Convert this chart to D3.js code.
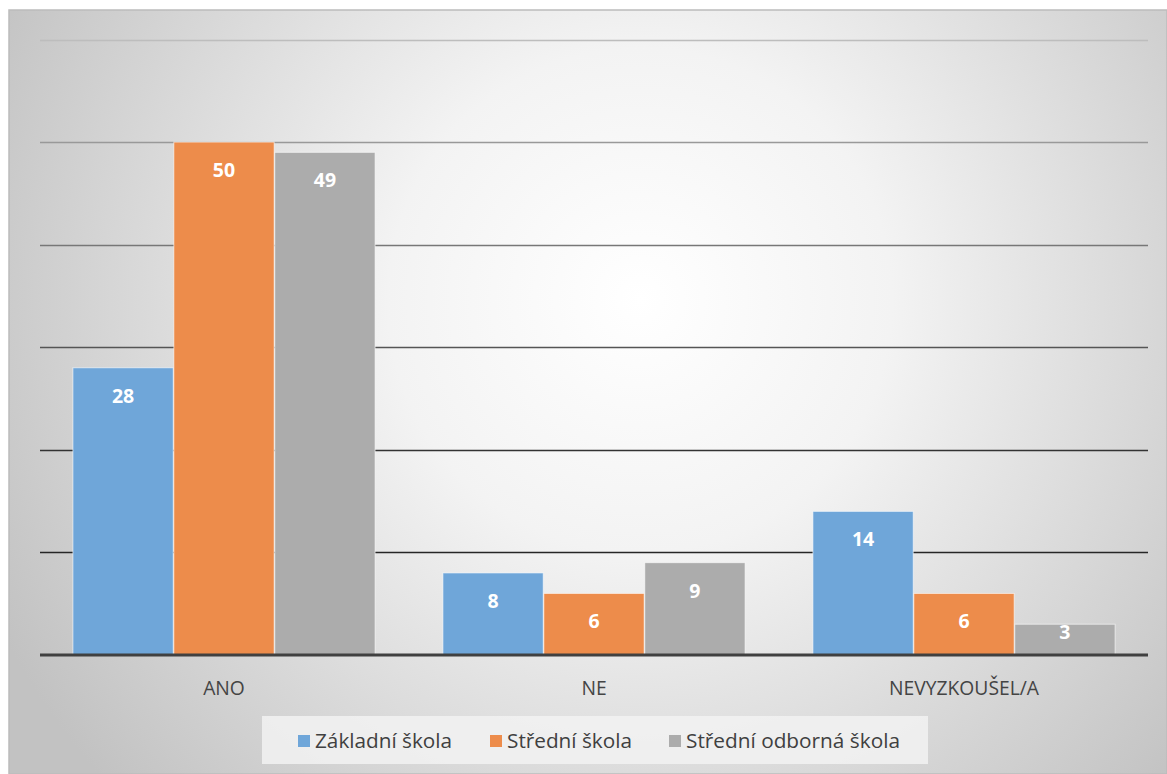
<!DOCTYPE html>
<html>
<head>
<meta charset="utf-8">
<script src="https://cdn.jsdelivr.net/npm/d3@7"></script>
<style>
  body { margin: 0; background: #fff; }
  svg { display: block; }
</style>
</head>
<body>
<script>
var width = 1167;
var height = 774;

// data
var categories = ["ANO", "NE", "NEVYZKOUŠEL/A"];
var series = ["Základní škola", "Střední škola", "Střední odborná škola"];
var zakladni = [28, 8, 14];
var stredni = [50, 6, 6];
var odborna = [49, 9, 3];
var yTicks = [0, 10, 20, 30, 40, 50, 60];

var values = [zakladni, stredni, odborna];
var colors = ["#6fa6d9", "#ed8c4b", "#acacac"];
var gridColors = ["#444", "#262626", "#333", "#555", "#777", "#999", "#bdbdbd"];

var svg = d3.select("body").append("svg")
  .attr("width", width)
  .attr("height", height);

var defs = svg.append("defs");
var grad = defs.append("radialGradient")
  .attr("id", "bg")
  .attr("gradientUnits", "userSpaceOnUse")
  .attr("cx", 640).attr("cy", 300).attr("r", 720);
grad.append("stop").attr("offset", "0%").attr("stop-color", "#ffffff");
grad.append("stop").attr("offset", "35%").attr("stop-color", "#f3f3f3");
grad.append("stop").attr("offset", "100%").attr("stop-color", "#c2c2c2");

svg.append("rect")
  .attr("x", 9).attr("y", 10)
  .attr("width", width - 9).attr("height", height - 10)
  .attr("fill", "url(#bg)")
  .attr("stroke", "#bcbcbc")
  .attr("stroke-width", 1.5);

var x0 = d3.scaleBand()
  .domain(categories)
  .range([39, 1149])
  .paddingInner(0.18)
  .paddingOuter(0.09);

var x1 = d3.scaleBand()
  .domain(d3.range(series.length))
  .range([0, x0.bandwidth()])
  .padding(0.006);

var y = d3.scaleLinear()
  .domain([0, 60])
  .range([655, 39.5]);

// gridlines
svg.append("g").selectAll("line")
  .data(yTicks.slice(1))
  .enter().append("line")
  .attr("x1", 40).attr("x2", 1148)
  .attr("y1", function (d) { return Math.round(y(d)) + 0.5; })
  .attr("y2", function (d) { return Math.round(y(d)) + 0.5; })
  .attr("stroke", function (d, i) { return gridColors[i + 1]; })
  .attr("stroke-width", 1.6);

// bars
var groups = svg.append("g").selectAll("g")
  .data(categories)
  .enter().append("g")
  .attr("transform", function (d) { return "translate(" + x0(d) + ",0)"; });

groups.selectAll("rect")
  .data(function (d, ci) { return series.map(function (s, si) { return {si: si, v: values[si][ci]}; }); })
  .enter().append("rect")
  .attr("x", function (d) { return x1(d.si); })
  .attr("width", x1.bandwidth())
  .attr("y", function (d) { return y(d.v); })
  .attr("height", function (d) { return y(0) - y(d.v); })
  .attr("fill", function (d) { return colors[d.si]; })
  .attr("stroke", "rgba(255,255,255,0.6)")
  .attr("stroke-width", 1);

groups.selectAll("text")
  .data(function (d, ci) { return series.map(function (s, si) { return {si: si, v: values[si][ci]}; }); })
  .enter().append("text")
  .attr("x", function (d) { return x1(d.si) + x1.bandwidth() / 2; })
  .attr("y", function (d) {
    var h = y(0) - y(d.v);
    return y(d.v) + Math.min(28, h - 23);
  })
  .attr("dy", "0.35em")
  .attr("text-anchor", "middle")
  .attr("fill", "#fff")
  .attr("font-family", "Open Sans, sans-serif")
  .attr("font-weight", "bold")
  .attr("font-size", 19.5)
  .text(function (d) { return d.v; });

// baseline
svg.append("line")
  .attr("x1", 40).attr("x2", 1148)
  .attr("y1", y(0)).attr("y2", y(0))
  .attr("stroke", "#404040")
  .attr("stroke-width", 3);

// category axis labels
svg.append("g").selectAll("text")
  .data(categories)
  .enter().append("text")
  .attr("x", function (d) { return x0(d) + x0.bandwidth() / 2; })
  .attr("y", 688)
  .attr("dy", "0.35em")
  .attr("text-anchor", "middle")
  .attr("fill", "#444")
  .attr("font-family", "Open Sans, sans-serif")
  .attr("font-size", 19.3)
  .text(function (d) { return d; });

// legend
svg.append("rect")
  .attr("x", 262).attr("y", 716)
  .attr("width", 666).attr("height", 48)
  .attr("fill", "#f2f2f2")
  .attr("opacity", 0.85);

var legendX = [298, 490, 669];
var legend = svg.append("g").selectAll("g")
  .data(series)
  .enter().append("g")
  .attr("transform", function (d, i) { return "translate(" + legendX[i] + ",741)"; });

legend.append("rect")
  .attr("x", 0).attr("y", -6)
  .attr("width", 12).attr("height", 12)
  .attr("fill", function (d, i) { return colors[i]; });

legend.append("text")
  .attr("x", 17)
  .attr("dy", "0.35em")
  .attr("fill", "#404040")
  .attr("font-family", "Open Sans, sans-serif")
  .attr("font-size", 19.5)
  .attr("textLength", function (d, i) { return [137, 125, 214][i]; })
  .attr("lengthAdjust", "spacingAndGlyphs")
  .text(function (d) { return d; });
</script>
</body>
</html>
